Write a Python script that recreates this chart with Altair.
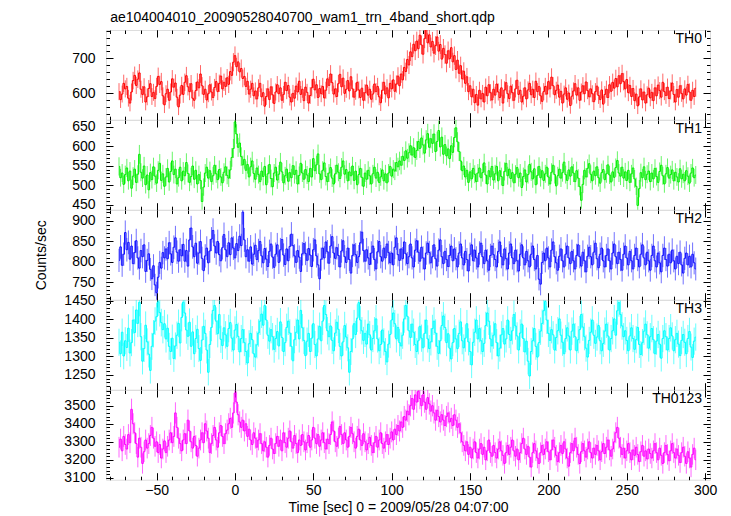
import altair as alt
import pandas as pd

T_START = -74  # first 1-s bin (sec)

th0 = [604, 581, 597, 628, 612, 619, 585, 571, 603, 636,
       651, 622, 640, 658, 611, 596, 618, 574, 589, 613,
       627, 590, 602, 584, 619, 648, 625, 633, 592, 566,
       598, 611, 579, 603, 641, 617, 629, 588, 560, 594,
       622, 596, 631, 650, 618, 604, 627, 585, 579, 607,
       632, 615, 655, 621, 596, 611, 580, 598, 624, 603,
       587, 616, 633, 604, 628, 649, 612, 631, 619, 644,
       625, 662, 651, 689, 708, 676, 690, 661, 671, 642,
       648, 619, 634, 597, 611, 628, 592, 606, 583, 615,
       628, 589, 601, 562, 590, 612, 581, 618, 595, 570,
       603, 624, 598, 615, 579, 596, 631, 607, 622, 588,
       574, 599, 585, 620, 603, 634, 596, 611, 578, 617,
       602, 571, 593, 615, 640, 609, 624, 587, 613, 598,
       619, 586, 608, 641, 622, 655, 630, 597, 612, 590,
       627, 654, 618, 643, 599, 611, 636, 606, 647, 612,
       588, 605, 631, 609, 587, 614, 579, 601, 623, 594,
       611, 582, 597, 626, 604, 619, 589, 572, 608, 631,
       597, 615, 586, 628, 612, 638, 605, 626, 649, 621,
       655, 638, 674, 662, 697, 681, 719, 705, 741, 722,
       750, 728, 767, 739, 712, 757, 784, 745, 768, 733,
       749, 715, 737, 762, 721, 740, 698, 729, 711, 686,
       722, 699, 731, 690, 708, 668, 695, 657, 679, 641,
       663, 628, 647, 604, 621, 589, 611, 572, 596, 565,
       608, 583, 599, 574, 617, 592, 624, 601, 580, 611,
       594, 626, 603, 587, 615, 571, 609, 630, 598, 584,
       620, 601, 579, 612, 637, 596, 608, 574, 591, 615,
       583, 609, 628, 595, 611, 587, 634, 604, 619, 592,
       576, 604, 619, 597, 633, 612, 646, 621, 595, 608,
       623, 588, 605, 571, 597, 615, 582, 600, 564, 591,
       606, 627, 594, 615, 579, 603, 621, 598, 632, 607,
       589, 612, 598, 575, 604, 620, 593, 581, 609, 568,
       596, 611, 587, 624, 605, 631, 614, 642, 618, 650,
       627, 656, 633, 612, 639, 601, 622, 590, 613, 578,
       597, 563, 589, 612, 580, 603, 571, 595, 614, 586,
       602, 578, 615, 592, 623, 607, 588, 631, 604, 593,
       617, 584, 606, 629, 596, 574, 610, 588, 621, 599,
       583, 612, 594, 625, 603, 579, 608, 590, 614]

th1 = [548, 519, 531, 502, 527, 544, 511, 536, 492, 523,
       541, 507, 528, 579, 533, 518, 549, 501, 526, 488,
       532, 514, 547, 523, 505, 538, 556, 512, 529, 497,
       521, 543, 508, 535, 562, 527, 541, 503, 519, 546,
       511, 536, 524, 558, 530, 507, 522, 549, 515, 538,
       503, 527, 512, 458, 495, 531, 546, 518, 537, 509,
       524, 551, 529, 514, 540, 521, 506, 533, 547, 525,
       518, 539, 571, 594, 662, 631, 597, 608, 573, 552,
       566, 538, 553, 521, 547, 562, 530, 515, 544, 527,
       509, 536, 522, 548, 501, 529, 553, 517, 496, 531,
       546, 513, 528, 559, 534, 506, 524, 541, 510, 532,
       519, 550, 527, 538, 503, 525, 556, 531, 515, 540,
       526, 509, 543, 521, 568, 537, 552, 580, 529, 514,
       538, 557, 522, 509, 531, 545, 518, 503, 529, 551,
       533, 517, 546, 562, 528, 540, 511, 534, 524, 549,
       512, 536, 501, 527, 543, 520, 497, 531, 515, 538,
       524, 503, 529, 546, 518, 533, 507, 521, 539, 511,
       529, 506, 531, 548, 523, 541, 536, 558, 547, 562,
       551, 574, 563, 588, 569, 583, 601, 577, 596, 571,
       589, 612, 594, 621, 603, 582, 616, 632, 597, 619,
       607, 631, 586, 612, 640, 598, 623, 579, 604, 575,
       593, 568, 601, 584, 622, 647, 611, 586, 562, 537,
       549, 521, 538, 507, 534, 516, 543, 528, 509, 531,
       544, 519, 532, 557, 526, 503, 537, 521, 548, 513,
       529, 548, 511, 537, 522, 499, 535, 556, 524, 541,
       517, 532, 506, 528, 545, 519, 531, 494, 522, 539,
       508, 527, 553, 534, 516, 542, 501, 525, 548, 519,
       537, 512, 529, 546, 521, 503, 533, 551, 527, 498,
       524, 541, 518, 532, 559, 527, 512, 539, 523, 547,
       531, 509, 537, 518, 496, 461, 502, 538, 521, 543,
       555, 528, 511, 536, 524, 547, 519, 505, 532, 540,
       514, 529, 552, 526, 508, 534, 520, 545, 563, 531,
       523, 546, 518, 534, 512, 538, 507, 529, 544, 516,
       497, 448, 491, 532, 519, 547, 514, 528, 536, 509,
       531, 516, 543, 522, 507, 535, 551, 524, 503, 529,
       545, 518, 527, 539, 511, 533, 521, 508, 542, 516,
       528, 511, 537, 523, 505, 531, 544, 519, 526]

th2 = [803, 836, 791, 818, 871, 829, 847, 806, 838, 795,
       822, 851, 809, 784, 827, 812, 841, 776, 803, 819,
       781, 758, 790, 743, 724, 762, 798, 784, 822, 809,
       831, 807, 846, 819, 798, 835, 858, 823, 801, 829,
       814, 842, 801, 827, 789, 853, 882, 836, 812, 845,
       796, 821, 849, 808, 778, 814, 833, 797, 826, 855,
       876, 838, 821, 849, 817, 802, 834, 866, 829, 812,
       846, 817, 858, 833, 809, 844, 827, 862, 839, 921,
       853, 812, 829, 801, 836, 794, 818, 840, 805, 827,
       849, 814, 797, 832, 806, 788, 825, 843, 811, 786,
       818, 841, 798, 829, 854, 816, 793, 831, 802, 837,
       867, 839, 814, 798, 827, 811, 776, 819, 844, 820,
       803, 832, 816, 788, 829, 853, 814, 792, 758, 806,
       833, 809, 848, 824, 796, 838, 861, 821, 808, 834,
       815, 787, 826, 851, 812, 798, 833, 805, 772, 815,
       841, 817, 798, 812, 846, 872, 827, 801, 829, 809,
       793, 821, 838, 805, 782, 824, 849, 812, 801, 833,
       809, 843, 822, 797, 821, 792, 835, 858, 817, 803,
       831, 807, 848, 819, 795, 812, 843, 809, 787, 828,
       851, 823, 801, 835, 809, 782, 821, 845, 822, 797,
       812, 841, 807, 789, 828, 853, 812, 795, 825, 805,
       788, 815, 838, 802, 831, 807, 787, 821, 843, 809,
       792, 825, 805, 777, 818, 841, 802, 828, 809, 787,
       821, 845, 812, 795, 828, 802, 779, 815, 838, 817,
       805, 787, 825, 848, 812, 792, 831, 807, 782, 821,
       843, 809, 795, 828, 802, 777, 818, 841, 809, 792,
       825, 802, 787, 818, 838, 805, 782, 815, 757, 745,
       798, 821, 802, 833, 809, 787, 828, 848, 812, 797,
       779, 813, 831, 802, 787, 818, 838, 809, 795, 825,
       802, 782, 815, 841, 812, 789, 823, 802, 775, 813,
       835, 812, 792, 823, 845, 807, 785, 818, 833, 802,
       787, 815, 831, 802, 782, 821, 843, 812, 795, 823,
       805, 779, 818, 838, 809, 792, 825, 802, 782, 815,
       833, 805, 787, 818, 841, 809, 792, 823, 802, 779,
       815, 838, 802, 787, 821, 797, 775, 815, 833, 805,
       789, 818, 797, 828, 802, 782, 813, 795, 823, 792,
       772, 808, 821, 792, 813, 787, 818, 797, 782]

th3 = [1338, 1307, 1365, 1301, 1342, 1324, 1376, 1309, 1337, 1398,
       1364, 1425, 1389, 1446, 1353, 1287, 1321, 1384, 1339, 1306,
       1262, 1327, 1361, 1395, 1407, 1447, 1418, 1391, 1372, 1388,
       1347, 1376, 1327, 1313, 1349, 1294, 1328, 1357, 1389, 1336,
       1405, 1446, 1417, 1371, 1354, 1392, 1327, 1366, 1307, 1348,
       1373, 1321, 1289, 1344, 1381, 1362, 1317, 1257, 1332, 1378,
       1424, 1437, 1395, 1361, 1413, 1346, 1329, 1377, 1358, 1327,
       1375, 1391, 1349, 1317, 1371, 1386, 1354, 1312, 1348, 1372,
       1337, 1313, 1282, 1334, 1362, 1345, 1307, 1298, 1331, 1363,
       1395, 1414, 1384, 1437, 1398, 1357, 1341, 1372, 1353, 1319,
       1348, 1367, 1328, 1393, 1351, 1313, 1337, 1378, 1395, 1363,
       1327, 1288, 1345, 1365, 1398, 1347, 1424, 1377, 1343, 1302,
       1341, 1362, 1313, 1349, 1388, 1332, 1301, 1347, 1381, 1342,
       1395, 1437, 1413, 1369, 1353, 1382, 1343, 1315, 1363, 1392,
       1373, 1327, 1301, 1339, 1383, 1352, 1323, 1257, 1313, 1347,
       1388, 1359, 1403, 1445, 1398, 1369, 1343, 1362, 1333, 1387,
       1358, 1317, 1348, 1369, 1401, 1347, 1315, 1332, 1371, 1339,
       1313, 1285, 1333, 1359, 1398, 1417, 1388, 1347, 1378, 1337,
       1328, 1357, 1401, 1437, 1408, 1369, 1351, 1387, 1365, 1332,
       1313, 1342, 1381, 1349, 1323, 1362, 1398, 1347, 1321, 1339,
       1375, 1395, 1363, 1327, 1308, 1342, 1383, 1409, 1378, 1337,
       1361, 1322, 1293, 1337, 1375, 1347, 1321, 1362, 1393, 1342,
       1323, 1349, 1388, 1339, 1313, 1277, 1338, 1365, 1398, 1347,
       1375, 1342, 1313, 1335, 1383, 1417, 1395, 1347, 1328, 1357,
       1388, 1337, 1301, 1322, 1358, 1375, 1333, 1347, 1398, 1359,
       1343, 1369, 1413, 1382, 1355, 1317, 1363, 1387, 1348, 1312,
       1341, 1287, 1247, 1313, 1342, 1375, 1327, 1298, 1337, 1368,
       1389, 1423, 1448, 1398, 1362, 1343, 1372, 1358, 1317, 1351,
       1369, 1401, 1357, 1338, 1307, 1348, 1377, 1355, 1317, 1368,
       1387, 1353, 1315, 1345, 1372, 1413, 1379, 1353, 1322, 1298,
       1343, 1365, 1398, 1357, 1335, 1352, 1383, 1342, 1315, 1335,
       1368, 1387, 1355, 1317, 1348, 1369, 1401, 1357, 1423, 1445,
       1413, 1382, 1353, 1369, 1343, 1315, 1355, 1377, 1348, 1319,
       1345, 1378, 1332, 1305, 1337, 1368, 1387, 1358, 1322, 1353,
       1375, 1345, 1307, 1341, 1359, 1333, 1295, 1348, 1369, 1353,
       1317, 1348, 1377, 1355, 1315, 1345, 1362, 1333, 1302, 1343,
       1359, 1338, 1307, 1348, 1367, 1325, 1297, 1341, 1352]

th0123 = [3270, 3315, 3250, 3330, 3285, 3260, 3340, 3295, 3480, 3400,
          3350, 3290, 3215, 3320, 3270, 3180, 3245, 3310, 3265, 3290,
          3335, 3380, 3320, 3275, 3300, 3240, 3285, 3210, 3260, 3305,
          3240, 3275, 3310, 3350, 3295, 3330, 3460, 3380, 3320, 3290,
          3250, 3310, 3345, 3290, 3420, 3360, 3300, 3265, 3330, 3280,
          3220, 3265, 3310, 3350, 3295, 3400, 3360, 3320, 3240, 3290,
          3335, 3380, 3310, 3270, 3350, 3390, 3330, 3290, 3345, 3365,
          3400, 3430, 3380, 3460, 3570, 3520, 3450, 3410, 3380, 3420,
          3360, 3400, 3330, 3370, 3310, 3285, 3350, 3320, 3270, 3310,
          3345, 3290, 3250, 3300, 3270, 3215, 3280, 3320, 3260, 3235,
          3290, 3330, 3275, 3310, 3250, 3350, 3295, 3270, 3320, 3360,
          3300, 3265, 3335, 3290, 3240, 3310, 3280, 3340, 3300, 3255,
          3295, 3335, 3270, 3310, 3380, 3320, 3290, 3340, 3275, 3310,
          3350, 3295, 3260, 3315, 3290, 3340, 3410, 3360, 3300, 3275,
          3320, 3385, 3340, 3290, 3350, 3310, 3270, 3330, 3380, 3345,
          3300, 3265, 3330, 3370, 3310, 3280, 3345, 3300, 3255, 3290,
          3325, 3280, 3240, 3295, 3330, 3270, 3310, 3350, 3290, 3265,
          3300, 3340, 3285, 3320, 3355, 3310, 3370, 3340, 3390, 3360,
          3410, 3380, 3440, 3420, 3470, 3450, 3500, 3540, 3480, 3560,
          3520, 3580, 3540, 3500, 3560, 3520, 3480, 3545, 3510, 3470,
          3500, 3460, 3420, 3475, 3440, 3410, 3450, 3420, 3390, 3440,
          3460, 3410, 3430, 3390, 3450, 3420, 3380, 3400, 3350, 3300,
          3280, 3250, 3300, 3230, 3270, 3210, 3260, 3300, 3240, 3210,
          3260, 3290, 3230, 3270, 3200, 3250, 3310, 3240, 3220, 3280,
          3240, 3210, 3260, 3300, 3250, 3225, 3180, 3240, 3280, 3230,
          3270, 3310, 3250, 3220, 3260, 3200, 3240, 3290, 3320, 3260,
          3230, 3275, 3215, 3160, 3240, 3290, 3250, 3210, 3180, 3240,
          3280, 3230, 3260, 3300, 3245, 3200, 3255, 3310, 3270, 3225,
          3190, 3240, 3280, 3235, 3300, 3260, 3210, 3165, 3240, 3290,
          3250, 3320, 3270, 3230, 3180, 3245, 3290, 3250, 3215, 3260,
          3300, 3240, 3210, 3265, 3230, 3280, 3250, 3200, 3245, 3290,
          3235, 3270, 3310, 3255, 3220, 3260, 3300, 3350, 3380, 3320,
          3270, 3230, 3265, 3210, 3250, 3290, 3240, 3200, 3255, 3225,
          3270, 3230, 3190, 3245, 3280, 3220, 3250, 3205, 3260, 3235,
          3210, 3250, 3290, 3240, 3200, 3265, 3225, 3180, 3240, 3280,
          3230, 3195, 3250, 3290, 3240, 3210, 3260, 3225, 3185, 3240,
          3270, 3220, 3180, 3245, 3210, 3160, 3230, 3265, 3200]

names = ["TH0", "TH1", "TH2", "TH3", "TH0123"]
series = [th0, th1, th2, th3, th0123]
colors = ["#ff0000", "#00ee00", "#1010ff", "#00ffff", "#ff00ff"]
y_domains = [[523, 782], [437, 667], [707, 926], [1210, 1452], [3090, 3587]]
y_major = [[600, 700], [450, 500, 550, 600, 650], [750, 800, 850, 900],
           [1250, 1300, 1350, 1400, 1450], [3100, 3200, 3300, 3400, 3500]]
y_minor_step = [20, 10, 10, 10, 20]

x_domain = [-82.3, 303.1]
x_major = [-50, 0, 50, 100, 150, 200, 250, 300]
x_minor = list(range(-80, 301, 10))

W = 604
H = 89.7
FONT = "Liberation Sans"
MAJ = 7
MIN = 3.5


def ax(orient, values, size, labels=False, title=None, **kw):
    return alt.Axis(orient=orient, values=values, tickSize=size, offset=-size,
                    domain=False, grid=False, labels=labels, title=title,
                    tickColor="black", tickWidth=1, labelFont=FONT,
                    labelFontSize=14, labelColor="black", labelFlush=False,
                    labelOverlap=False, format="d", minExtent=0, **kw)


def panel(i):
    vals = series[i]
    df = pd.DataFrame({"t": [T_START + k for k in range(len(vals))], "r": vals})
    df["lo"] = df["r"] - df["r"] ** 0.5
    df["hi"] = df["r"] + df["r"] ** 0.5
    last = i == len(series) - 1
    xs = alt.Scale(domain=x_domain, nice=False, zero=False)
    ys = alt.Scale(domain=y_domains[i], nice=False, zero=False)
    lo, hi = y_domains[i]
    st = y_minor_step[i]
    yminor = [v for v in range(int(lo // st * st), int(hi) + 1, st) if lo <= v <= hi]

    xb_title = "Time [sec] 0 = 2009/05/28 04:07:00" if last else None
    xkw = dict(labelPadding=4, titleFont=FONT, titleFontSize=14,
               titleFontWeight="normal", titleColor="black", titlePadding=3,
               titleX=292) if last else {}
    ykw = dict(labelPadding=11)
    ytitle = None
    if i == 2:
        ytitle = "Counts/sec"
        ykw.update(titleFont=FONT, titleFontSize=14, titleFontWeight="normal",
                   titleColor="black", titlePadding=23)

    base = alt.Chart(df)
    err = base.mark_rule(color=colors[i], opacity=0.6, strokeWidth=1, clip=True).encode(
        x=alt.X("t:Q", scale=xs, axis=ax("bottom", x_major, MAJ, labels=last,
                                         title=xb_title, **xkw)),
        y=alt.Y("lo:Q", scale=ys, axis=ax("left", y_major[i], MAJ, labels=True,
                                          title=ytitle, **ykw)),
        y2="hi:Q",
    )
    line = base.mark_line(color=colors[i], strokeWidth=1, clip=True,
                          interpolate="step").encode(
        x=alt.X("t:Q", scale=xs, axis=ax("top", x_major, MAJ)),
        y=alt.Y("r:Q", scale=ys, axis=ax("right", y_major[i], MAJ)),
    )
    m1 = base.mark_line(opacity=0, clip=True).encode(
        x=alt.X("t:Q", scale=xs, axis=ax("bottom", x_minor, MIN)),
        y=alt.Y("r:Q", scale=ys, axis=ax("left", yminor, MIN)),
    )
    m2 = base.mark_line(opacity=0, clip=True).encode(
        x=alt.X("t:Q", scale=xs, axis=ax("top", x_minor, MIN)),
        y=alt.Y("r:Q", scale=ys, axis=ax("right", yminor, MIN)),
    )
    label = alt.Chart(pd.DataFrame({"name": [names[i]]})).mark_text(
        align="right", baseline="top", font=FONT, fontSize=14, color="black"
    ).encode(text="name:N", x=alt.value(W - 8), y=alt.value(1.5))
    return alt.layer(err, line, m1, m2, label).resolve_axis(
        x="independent", y="independent").properties(width=W, height=H)


chart = alt.vconcat(*[panel(i) for i in range(5)], spacing=0,
                    bounds="flush").properties(
    title=alt.TitleParams("ae104004010_20090528040700_wam1_trn_4band_short.qdp",
                          anchor="start", font=FONT, fontSize=14,
                          fontWeight="normal", color="black", offset=4, dx=76),
    padding={"left": 26, "top": 3, "right": 5, "bottom": 0},
).configure_view(stroke="black", strokeWidth=1).configure(background="white")

chart.save("out.html", embed_options={"renderer": "svg", "actions": False})
